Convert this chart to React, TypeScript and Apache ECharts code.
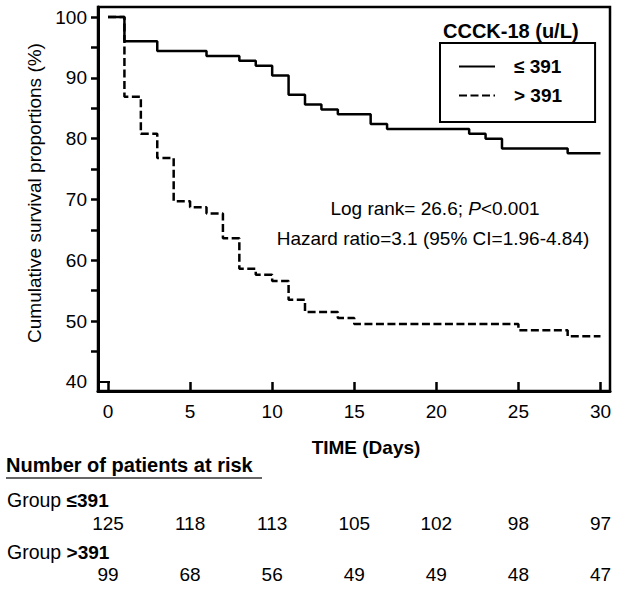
import React, { useEffect, useRef } from 'react';
import * as echarts from 'echarts';

const FONT = '"Liberation Sans", Arial, Helvetica, sans-serif';

const dayTicks = [0, 5, 10, 15, 20, 25, 30];
const yOuterTicks = [45, 50, 55, 60, 65, 70, 75, 80, 85, 90, 95, 100];
const yInnerTicks = [40];
const yLabels = [40, 50, 60, 70, 80, 90, 100];

const groupLowName = '≤ 391';
const groupHighName = '> 391';

// Kaplan-Meier steps: [day, survival %]
const survivalLow: [number, number][] = [
  [0, 100], [1, 96.0], [3, 94.4], [6, 93.6], [8, 92.8], [9, 92.0], [10, 90.4],
  [11, 87.2], [12, 85.6], [13, 84.8], [14, 84.0], [16, 82.4], [17, 81.6],
  [22, 80.8], [23, 80.0], [24, 78.4], [28, 77.6], [30, 77.6],
];
const survivalHigh: [number, number][] = [
  [0, 100], [1, 86.9], [2, 80.8], [3, 76.8], [4, 69.7], [5, 68.7], [6, 67.7],
  [7, 63.6], [8, 58.6], [9, 57.6], [10, 56.6], [11, 53.5], [12, 51.5],
  [14, 50.5], [15, 49.5], [25, 48.5], [28, 47.5], [30, 47.5],
];

const atRiskLow = [125, 118, 113, 105, 102, 98, 97];
const atRiskHigh = [99, 68, 56, 49, 49, 48, 47];

const X_MIN = -0.61;
const X_MAX = 30.58;
const Y_MIN = 38.5;
const Y_MAX = 101.65;

export default function App() {
  const ref = useRef<HTMLDivElement>(null);

  useEffect(() => {
    if (!ref.current) return;
    const chart = echarts.init(ref.current, null, { renderer: 'svg' });

    const riskAxis = (values: number[], offset: number) => ({
      type: 'value',
      min: X_MIN,
      max: X_MAX,
      position: 'bottom',
      offset,
      axisLine: { show: false, onZero: false },
      axisTick: { show: false },
      splitLine: { show: false },
      axisLabel: {
        customValues: dayTicks,
        margin: 0,
        fontSize: 19,
        fontFamily: FONT,
        color: '#000',
        formatter: (v: number) => String(values[Math.round(v / 5)]),
      },
    });

    const option: any = {
      animation: false,
      textStyle: { fontFamily: FONT, color: '#000' },
      title: {
        text: 'CCCK-18 (u/L)',
        left: 443,
        top: 21,
        padding: 0,
        textStyle: { fontFamily: FONT, fontWeight: 'bold', fontSize: 20, color: '#000' },
      },
      legend: {
        orient: 'vertical',
        left: 440,
        top: 43,
        padding: [14, 33, 17, 18],
        itemGap: 10,
        itemWidth: 36,
        itemHeight: 14,
        borderColor: '#000',
        borderWidth: 2,
        itemStyle: { opacity: 0 },
        data: [groupLowName, groupHighName],
        textStyle: {
          fontFamily: FONT,
          fontWeight: 'bold',
          fontSize: 19,
          color: '#000',
          padding: [0, 0, 0, 14],
        },
      },
      grid: {
        left: 98,
        right: 10,
        top: 7,
        bottom: 198,
        show: true,
        borderColor: '#000',
        borderWidth: 2.5,
      },
      xAxis: [
        {
          type: 'value',
          min: X_MIN,
          max: X_MAX,
          position: 'bottom',
          name: 'TIME (Days)',
          nameLocation: 'middle',
          nameGap: 47,
          nameTextStyle: {
            fontFamily: FONT,
            fontWeight: 'bold',
            fontSize: 19,
            color: '#000',
            padding: [0, 0, 0, 24],
          },
          axisLine: { onZero: false, lineStyle: { color: '#000', width: 3 } },
          axisTick: {
            customValues: dayTicks,
            inside: true,
            length: 9,
            lineStyle: { color: '#000', width: 2.5 },
          },
          axisLabel: {
            customValues: dayTicks,
            margin: 11,
            fontSize: 19,
            fontFamily: FONT,
            color: '#000',
          },
          splitLine: { show: false },
        },
        riskAxis(atRiskLow, 123),
        riskAxis(atRiskHigh, 174),
      ],
      yAxis: [
        {
          type: 'value',
          min: Y_MIN,
          max: Y_MAX,
          position: 'left',
          name: 'Cumulative survival proportions (%)',
          nameLocation: 'middle',
          nameGap: 43,
          nameTextStyle: {
            fontFamily: FONT,
            fontSize: 19,
            color: '#000',
            padding: [0, 0, 0, 12],
          },
          axisLine: { onZero: false, lineStyle: { color: '#000', width: 3 } },
          axisTick: {
            customValues: yOuterTicks,
            inside: false,
            length: 7,
            lineStyle: { color: '#000', width: 2.5 },
          },
          axisLabel: {
            customValues: yLabels,
            margin: 11,
            fontSize: 19,
            fontFamily: FONT,
            color: '#000',
          },
          splitLine: { show: false },
        },
        {
          type: 'value',
          min: Y_MIN,
          max: Y_MAX,
          position: 'left',
          axisLine: { show: false, onZero: false },
          axisTick: {
            customValues: yInnerTicks,
            inside: true,
            length: 12,
            lineStyle: { color: '#000', width: 2 },
          },
          axisLabel: { show: false },
          splitLine: { show: false },
        },
      ],
      series: [
        {
          name: groupLowName,
          type: 'line',
          step: 'end',
          xAxisIndex: 0,
          yAxisIndex: 0,
          data: survivalLow,
          symbol: 'none',
          itemStyle: { color: '#000' },
          lineStyle: { color: '#000', width: 2.5, type: 'solid' },
        },
        {
          name: groupHighName,
          type: 'line',
          step: 'end',
          xAxisIndex: 0,
          yAxisIndex: 0,
          data: survivalHigh,
          symbol: 'none',
          itemStyle: { color: '#000' },
          lineStyle: { color: '#000', width: 2.5, type: [8, 3.5] },
        },
      ],
      graphic: [
        {
          type: 'text',
          x: 435,
          y: 208,
          style: {
            text: '{n|Log rank= 26.6; }{i|P}{n|<0.001}',
            align: 'center',
            verticalAlign: 'middle',
            font: `19px ${FONT}`,
            fill: '#000',
            rich: {
              n: { fontSize: 19, fontFamily: FONT, fill: '#000' },
              i: { fontSize: 19, fontFamily: FONT, fontStyle: 'italic', fill: '#000' },
            },
          },
        },
        {
          type: 'text',
          x: 433,
          y: 238,
          style: {
            text: 'Hazard ratio=3.1 (95% CI=1.96-4.84)',
            align: 'center',
            verticalAlign: 'middle',
            font: `19px ${FONT}`,
            fill: '#000',
          },
        },
        {
          type: 'text',
          x: 6,
          y: 465,
          style: {
            text: 'Number of patients at risk',
            align: 'left',
            verticalAlign: 'middle',
            font: `bold 20px ${FONT}`,
            fill: '#000',
          },
        },
        {
          type: 'line',
          shape: { x1: 6, y1: 478, x2: 262, y2: 478 },
          style: { stroke: '#666', lineWidth: 2 },
        },
        {
          type: 'text',
          x: 7,
          y: 500,
          style: {
            text: '{g|Group }{b|≤391}',
            align: 'left',
            verticalAlign: 'middle',
            font: `19px ${FONT}`,
            fill: '#000',
            rich: {
              g: { fontSize: 19.5, fontFamily: FONT, fill: '#000' },
              b: { fontSize: 19, fontFamily: FONT, fontWeight: 'bold', fill: '#000' },
            },
          },
        },
        {
          type: 'text',
          x: 7,
          y: 552,
          style: {
            text: '{g|Group }{b|>391}',
            align: 'left',
            verticalAlign: 'middle',
            font: `19px ${FONT}`,
            fill: '#000',
            rich: {
              g: { fontSize: 19.5, fontFamily: FONT, fill: '#000' },
              b: { fontSize: 19, fontFamily: FONT, fontWeight: 'bold', fill: '#000' },
            },
          },
        },
      ],
    };

    chart.setOption(option);
    return () => chart.dispose();
  }, []);

  return (
    <div
      ref={ref}
      style={{ position: 'fixed', left: 0, top: 0, width: 620, height: 589, background: '#fff' }}
    />
  );
}
